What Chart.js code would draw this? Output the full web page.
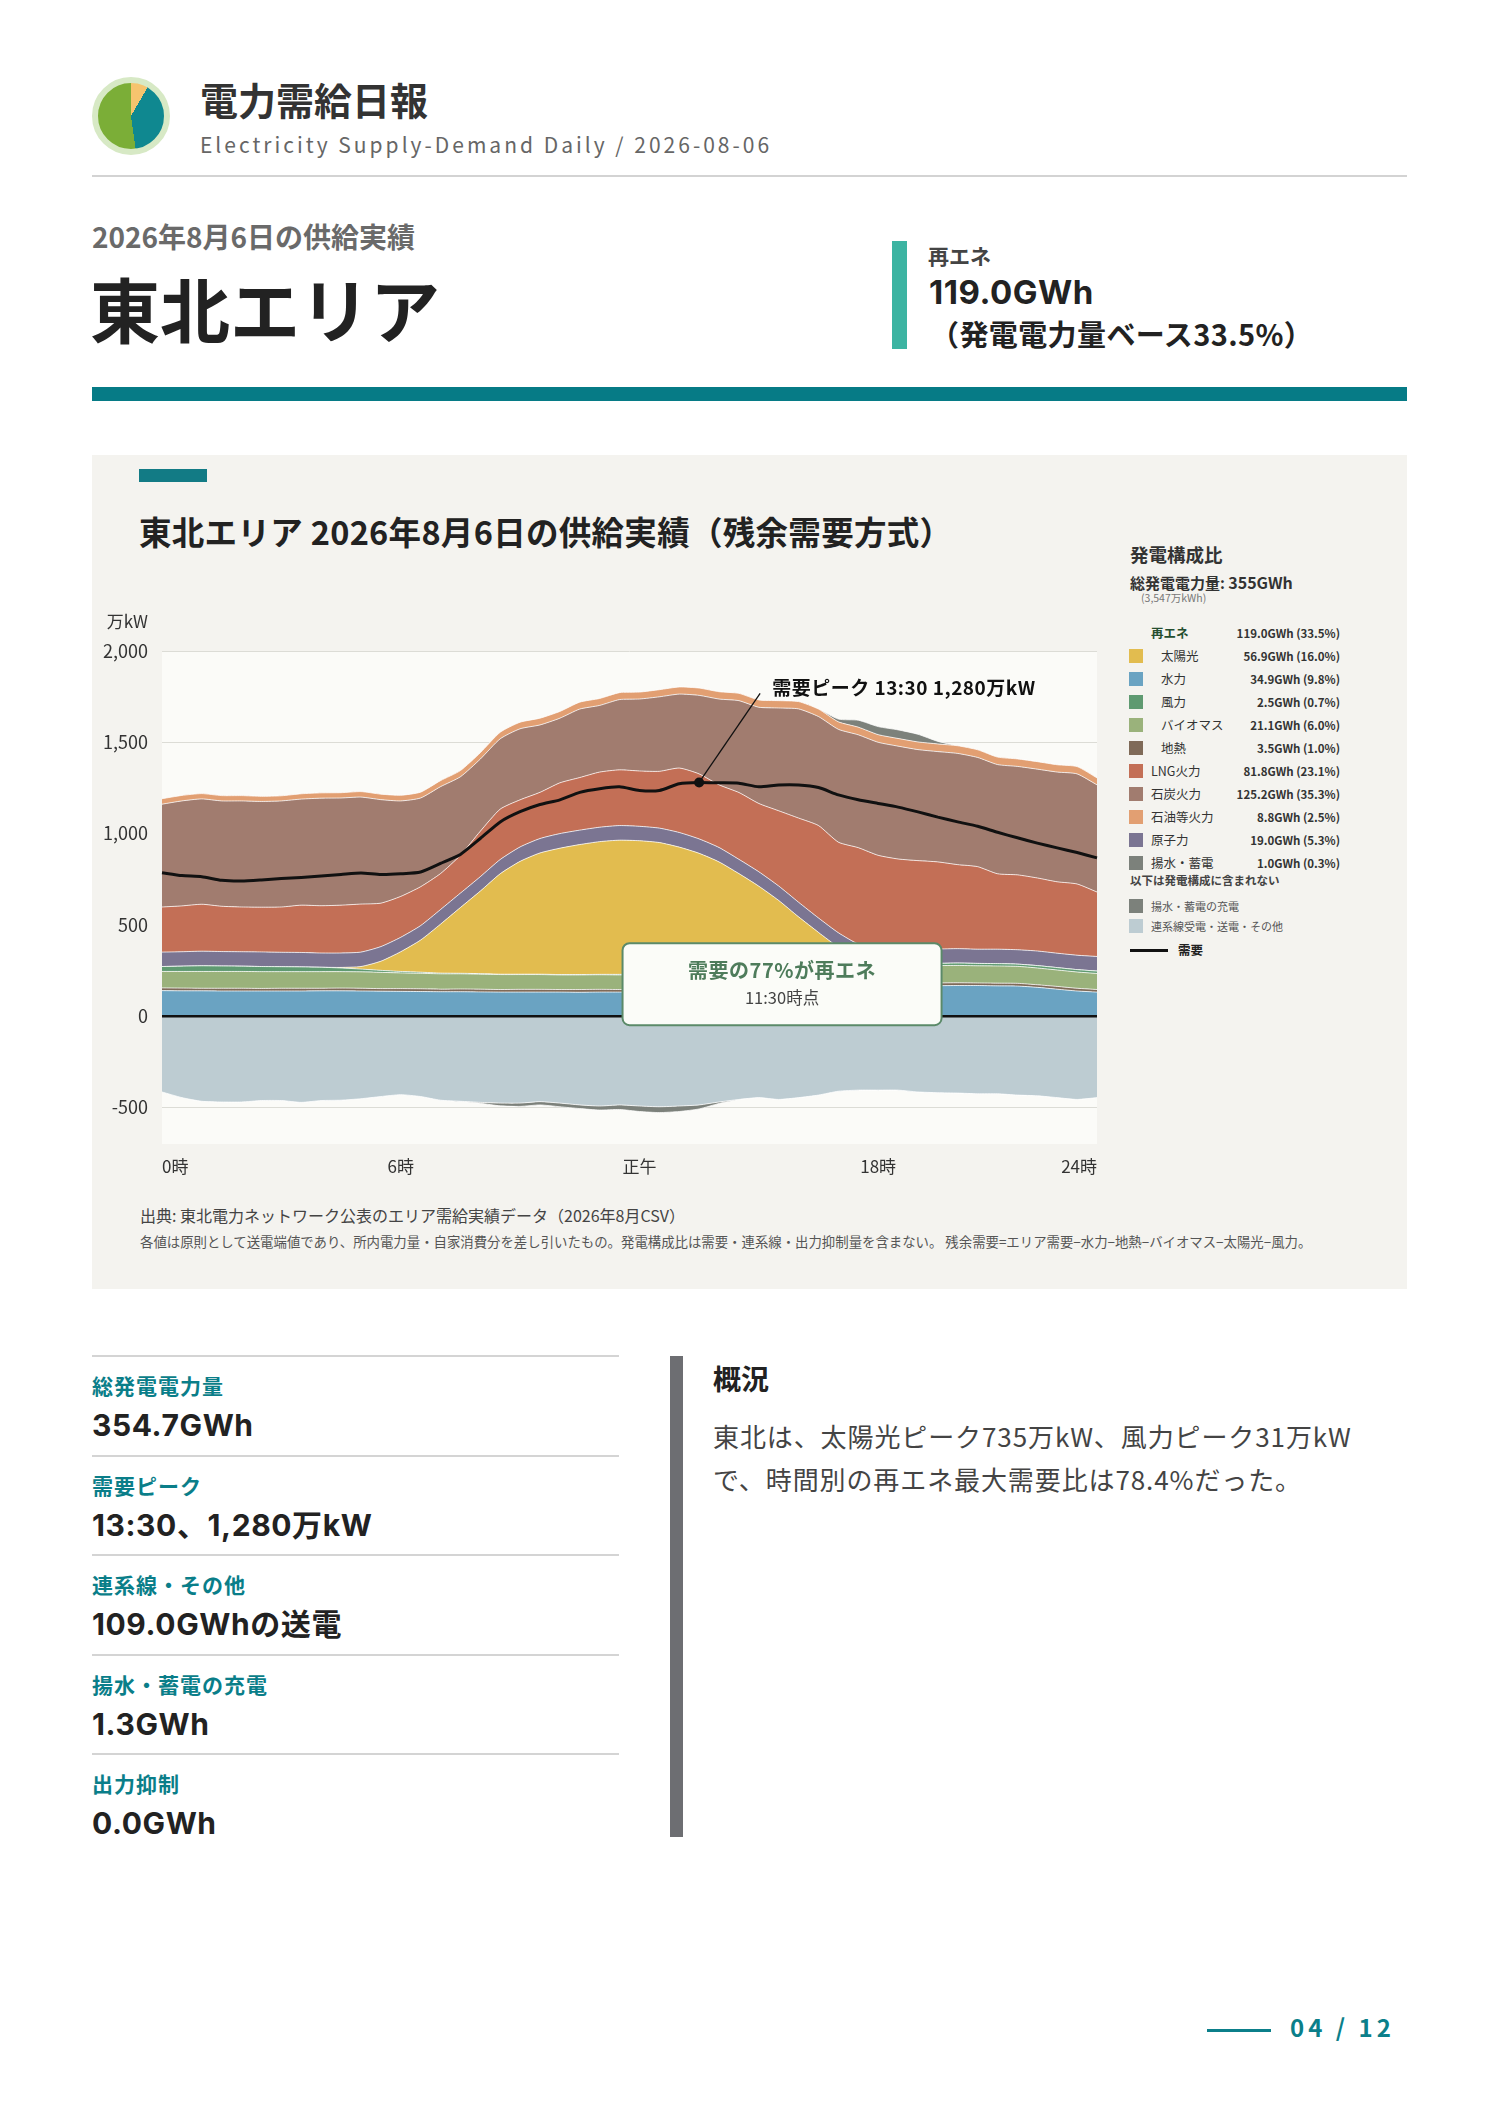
<!DOCTYPE html>
<html lang="ja">
<head>
<meta charset="utf-8">
<title>電力需給日報 東北エリア 2026-08-06</title>
<script src="https://cdn.jsdelivr.net/npm/chart.js@4.4.1/dist/chart.umd.min.js"></script>
<style>
* { box-sizing: border-box; margin: 0; padding: 0; }
body { width: 1488px; height: 2105px; background: #fff; position: relative; overflow: hidden;
  font-family: "Noto Sans CJK JP", "Noto Sans", sans-serif; color: #222; }
.abs { position: absolute; white-space: nowrap; line-height: 1; }
.num { font-family: Inter, "Noto Sans CJK JP", sans-serif; }
.logo { left: 92px; top: 77px; width: 78px; height: 78px; border-radius: 50%; border: 6px solid #d7e9c5;
  background: conic-gradient(#f6c46e 0deg 30deg, #0f8890 30deg 172deg, #7bae37 172deg 360deg); }
.panel { left: 92px; top: 455px; width: 1315px; height: 834px; background: #f4f3ef; }
#chartBox { position: absolute; left: 92px; top: 600px; width: 1020px; height: 590px; }
#legend { position: absolute; left: 1129px; top: 621px; width: 211px; }
.row { height: 23px; display: flex; align-items: center; font-size: 12.5px; color: #333; }
.sw { width: 14px; height: 14px; flex: none; }
.lab { margin-left: 8px; }
.row.sub .lab { margin-left: 18px; }
.val { margin-left: auto; font-weight: bold; font-size: 11.5px; color: #333; }
.xrow { height: 20px; display: flex; align-items: center; font-size: 11px; color: #555; }
.stat-line { left: 92px; width: 527px; height: 2px; background: #d4d4d4; }
.stat-lab { left: 92px; font-size: 21px; font-weight: bold; color: #0a7e89; letter-spacing: 1px; }
.stat-val { left: 92px; font-size: 30px; font-weight: bold; color: #222; letter-spacing: 0.6px;
  font-family: Inter, "Noto Sans CJK JP", sans-serif; }
</style>
</head>
<body>

<!-- ヘッダー -->
<div class="abs logo"></div>
<div class="abs" style="left:200px;top:80px;font-size:38px;font-weight:bold;color:#333;">電力需給日報</div>
<div class="abs" style="left:200px;top:134px;font-size:21px;letter-spacing:3px;color:#666;">Electricity Supply-Demand Daily / 2026-08-06</div>
<div class="abs" style="left:92px;top:175px;width:1315px;height:2px;background:#d3d3d3;"></div>

<div class="abs" style="left:92px;top:222px;font-size:28px;font-weight:bold;color:#6a6a6a;">2026年8月6日の供給実績</div>
<div class="abs" style="left:90px;top:273px;font-size:70px;font-weight:bold;color:#222;">東北エリア</div>

<div class="abs" style="left:892px;top:241px;width:15px;height:108px;background:#3cb4a2;"></div>
<div class="abs" style="left:928px;top:245px;font-size:21px;font-weight:bold;color:#444;">再エネ</div>
<div class="abs num" style="left:929px;top:276px;font-size:33px;font-weight:bold;color:#222;letter-spacing:0.5px;">119.0GWh</div>
<div class="abs" style="left:930px;top:319px;font-size:29px;font-weight:bold;color:#222;letter-spacing:0.4px;">（発電電力量ベース33.5%）</div>

<div class="abs" style="left:92px;top:387px;width:1315px;height:14px;background:#067b86;"></div>

<!-- グラフパネル -->
<div class="abs panel"></div>
<div class="abs" style="left:139px;top:469px;width:68px;height:13px;background:#127b85;"></div>
<div class="abs" style="left:139px;top:515px;font-size:32.5px;font-weight:bold;color:#222;letter-spacing:0.3px;">東北エリア 2026年8月6日の供給実績（残余需要方式）</div>

<div id="chartBox"><canvas id="myChart" width="1020" height="590"></canvas></div>

<div class="abs" style="left:1130px;top:545px;font-size:18.5px;font-weight:bold;color:#333;">発電構成比</div>
<div class="abs" style="left:1130px;top:574px;font-size:15px;font-weight:bold;color:#333;">総発電電力量: <span style="font-size:16px;">355GWh</span></div>
<div class="abs" style="left:1141px;top:593px;font-size:10.5px;color:#777;">(3,547万kWh)</div>
<div id="legend"></div>
<div class="abs" style="left:1130px;top:875px;font-size:11.5px;font-weight:bold;color:#444;">以下は発電構成に含まれない</div>
<div class="abs" id="legendX" style="left:1129px;top:896px;width:211px;"></div>
<div class="abs" style="left:1130px;top:949px;width:38px;height:3px;background:#111;"></div>
<div class="abs" style="left:1178px;top:944px;font-size:12.5px;font-weight:bold;color:#222;">需要</div>

<div class="abs" style="left:140px;top:1207px;font-size:16px;color:#444;">出典: 東北電力ネットワーク公表のエリア需給実績データ（2026年8月CSV）</div>
<div class="abs" style="left:140px;top:1235px;font-size:13.4px;color:#555;">各値は原則として送電端値であり、所内電力量・自家消費分を差し引いたもの。発電構成比は需要・連系線・出力抑制量を含まない。 残余需要=エリア需要−水力−地熱−バイオマス−太陽光−風力。</div>

<!-- 下段 -->
<div class="abs stat-line" style="top:1355px;"></div>
<div class="abs stat-lab" style="top:1375px;">総発電電力量</div>
<div class="abs stat-val" style="top:1410px;">354.7GWh</div>
<div class="abs stat-line" style="top:1455px;"></div>
<div class="abs stat-lab" style="top:1475px;">需要ピーク</div>
<div class="abs stat-val" style="top:1510px;">13:30、1,280万kW</div>
<div class="abs stat-line" style="top:1554px;"></div>
<div class="abs stat-lab" style="top:1574px;">連系線・その他</div>
<div class="abs stat-val" style="top:1609px;">109.0GWhの送電</div>
<div class="abs stat-line" style="top:1654px;"></div>
<div class="abs stat-lab" style="top:1674px;">揚水・蓄電の充電</div>
<div class="abs stat-val" style="top:1709px;">1.3GWh</div>
<div class="abs stat-line" style="top:1753px;"></div>
<div class="abs stat-lab" style="top:1773px;">出力抑制</div>
<div class="abs stat-val" style="top:1808px;">0.0GWh</div>

<div class="abs" style="left:670px;top:1356px;width:13px;height:481px;background:#6d6e72;"></div>
<div class="abs" style="left:713px;top:1364px;font-size:28px;font-weight:bold;color:#222;">概況</div>
<div class="abs" style="left:713px;top:1414px;font-size:26px;line-height:43px;color:#444;letter-spacing:0.9px;">東北は、太陽光ピーク735万kW、風力ピーク31万kW<br>で、時間別の再エネ最大需要比は78.4%だった。</div>

<div class="abs" style="left:1207px;top:2029px;width:64px;height:3px;background:#0b7f8a;"></div>
<div class="abs" style="left:1290px;top:2015px;font-size:24px;font-weight:bold;letter-spacing:4px;color:#0b7f8a;">04 / 12</div>

<script>
// 30分値 (万kW)
var times = ['0:00','0:30','1:00','1:30','2:00','2:30','3:00','3:30','4:00','4:30','5:00','5:30',
  '6:00','6:30','7:00','7:30','8:00','8:30','9:00','9:30','10:00','10:30','11:00','11:30',
  '12:00','12:30','13:00','13:30','14:00','14:30','15:00','15:30','16:00','16:30','17:00','17:30',
  '18:00','18:30','19:00','19:30','20:00','20:30','21:00','21:30','22:00','22:30','23:00','23:30'];

var demand = [786,770,764,744,740,746,754,760,768,776,784,776, 780,790,837,886,973,1064,1120,1159,1185,1226,1246,1256,
  1236,1236,1273,1280,1278,1276,1256,1266,1266,1252,1212,1185, 1165,1145,1119,1090,1064,1040,1007,977,948,922,896,867];

var hydro = [140,139,139,138,138,138,138,138,139,139,138,137, 136,135,134,134,133,132,132,132,132,131,132,132,
  132,133,134,136,138,140,143,148,152,156,160,163, 165,166,167,167,168,168,166,165,158,148,138,132];
var geo = [15,15,14,15,15,14,15,15,14,15,15,14, 15,15,14,15,15,14,15,15,14,15,15,14,
  15,15,14,15,15,14,15,15,14,15,15,14, 15,15,14,15,15,14,15,15,14,15,15,14];
var biomass = [90,91,92,92,92,92,91,91,91,90,90,89, 86,85,84,83,82,82,81,81,80,80,80,80,
  80,80,81,81,82,83,84,85,86,88,89,90, 93,94,94,95,95,94,94,93,92,90,89,88];
var wind = [27,29,31,30,29,28,27,26,24,20,15,11, 8,6,4,3,3,2,2,2,2,2,2,3,
  3,3,3,3,4,4,5,6,7,8,9,10, 10,11,12,12,13,13,13,12,13,13,13,13];
var solar = [0,0,0,0,0,0,0,0,0,3,14,50, 108,176,268,360,452,550,618,664,692,712,727,735,
  731,720,694,657,606,540,465,380,285,192,105,38, 6,0,0,0,0,0,0,0,0,0,0,0];
var nuclear = [79,79,80,79,79,80,79,79,78,79,79,80, 79,79,80,79,79,78,79,79,80,79,79,80,
  79,79,80,79,79,78,79,79,80,79,79,80, 79,79,80,79,79,78,79,79,80,79,79,80];
var lng = [247,251,257,248,245,245,248,259,259,262,263,238, 224,213,197,207,249,276,258,253,278,288,302,305,
  303,311,353,356,343,366,374,412,461,506,496,528, 513,496,485,477,460,452,413,410,400,391,390,353];
var coal = [563,575,577,577,581,579,581,581,589,587,586,567, 523,486,476,430,395,385,389,369,354,375,365,385,
  394,408,405,430,470,503,527,563,598,597,618,618, 619,618,608,604,609,598,598,594,596,601,603,587];
var oil = [30,30,29,29,29,28,28,29,29,29,30,30, 31,32,33,34,35,36,36,37,37,38,38,38,
  38,39,39,40,40,40,40,40,40,41,41,42, 42,42,42,42,42,42,41,41,41,40,40,38];
var pumped = [0,0,0,0,0,0,0,0,0,0,0,0, 0,0,0,0,0,0,0,0,0,0,0,0,
  0,0,0,0,0,0,0,0,0,0,15,38, 44,47,42,14,0,0,0,0,0,0,0,0];
var charge = [0,0,0,0,0,0,0,0,0,0,0,0, 0,0,0,0,-5,-15,-18,-18,-20,-20,-22,-25,
  -30,-32,-30,-22,-8,0,0,0,0,0,0,0, 0,0,0,0,0,0,0,0,0,0,0,0];
var exports = [-415,-446,-466,-470,-470,-462,-462,-472,-462,-460,-452,-440, -430,-440,-460,-466,-472,-476,-476,-468,-476,-486,-492,-486,
  -492,-496,-492,-486,-470,-456,-446,-456,-446,-432,-411,-405, -405,-405,-415,-419,-421,-425,-425,-432,-436,-446,-456,-446];

// 軸
var yTicks = [-500, 0, 500, 1000, 1500, 2000];
var tickIndex = [0, 12, 24, 36, 47];
var tickText = ['0時', '6時', '正午', '18時', '24時'];
var calloutIndex = 23;

// 凡例 (発電構成比)
var legendNames = ['再エネ','太陽光','水力','風力','バイオマス','地熱','LNG火力','石炭火力','石油等火力','原子力','揚水・蓄電'];
var legendValues = ['119.0GWh (33.5%)','56.9GWh (16.0%)','34.9GWh (9.8%)','2.5GWh (0.7%)','21.1GWh (6.0%)','3.5GWh (1.0%)',
  '81.8GWh (23.1%)','125.2GWh (35.3%)','8.8GWh (2.5%)','19.0GWh (5.3%)','1.0GWh (0.3%)'];
var legendXNames = ['揚水・蓄電の充電', '連系線受電・送電・その他'];

var colors = {
  '太陽光': '#e2bc4f', '水力': '#6aa3c2', '風力': '#5f9a71', 'バイオマス': '#9ab27b', '地熱': '#7f6a58',
  'LNG火力': '#c36f56', '石炭火力': '#a17c6f', '石油等火力': '#e29f72', '原子力': '#7b7592',
  '揚水・蓄電': '#7c817b', '揚水・蓄電の充電': '#7c817b', '連系線受電・送電・その他': '#bdccd2'
};
var subItems = ['太陽光','水力','風力','バイオマス','地熱'];

// 凡例を組み立てる
var legendHtml = '';
legendNames.forEach(function (name, i) {
  if (name === '再エネ') {
    legendHtml += '<div class="row"><span class="sw"></span><span class="lab" style="font-weight:bold;color:#244e2f;">' + name +
      '</span><span class="val">' + legendValues[i] + '</span></div>';
  } else {
    legendHtml += '<div class="row' + (subItems.indexOf(name) >= 0 ? ' sub' : '') + '"><span class="sw" style="background:' + colors[name] +
      '"></span><span class="lab">' + name + '</span><span class="val">' + legendValues[i] + '</span></div>';
  }
});
document.getElementById('legend').innerHTML = legendHtml;
document.getElementById('legendX').innerHTML = legendXNames.map(function (name) {
  return '<div class="xrow"><span class="sw" style="background:' + colors[name] + '"></span><span class="lab">' + name + '</span></div>';
}).join('');

var fontFamily = '"Noto Sans CJK JP", "Noto Sans", sans-serif';
Chart.defaults.font.family = fontFamily;

var peakIndex = demand.indexOf(Math.max.apply(null, demand));

function area(label, data, fill, stack) {
  return {
    label: label, data: data, stack: stack, fill: fill,
    backgroundColor: colors[label], borderColor: 'rgba(255,255,255,0.75)', borderWidth: 1,
    pointRadius: 0, pointHoverRadius: 0
  };
}

var datasets = [
  { label: '需要', data: demand, stack: 'demand', fill: false, borderColor: '#111', borderWidth: 3,
    pointRadius: demand.map(function (v, i) { return i === peakIndex ? 5 : 0; }),
    pointBackgroundColor: '#111', pointBorderWidth: 0, pointHoverRadius: 0 },
  area('連系線受電・送電・その他', exports, 'origin', 'neg'),
  area('揚水・蓄電の充電', charge, '-1', 'neg'),
  area('水力', hydro, 'origin', 'pos'),
  area('地熱', geo, '-1', 'pos'),
  area('バイオマス', biomass, '-1', 'pos'),
  area('風力', wind, '-1', 'pos'),
  area('太陽光', solar, '-1', 'pos'),
  area('原子力', nuclear, '-1', 'pos'),
  area('LNG火力', lng, '-1', 'pos'),
  area('石炭火力', coal, '-1', 'pos'),
  area('石油等火力', oil, '-1', 'pos'),
  area('揚水・蓄電', pumped, '-1', 'pos')
];

// 背景・ゼロ線・注記
var notePlugin = {
  id: 'notes',
  beforeDraw: function (chart) {
    var c = chart.ctx, a = chart.chartArea;
    c.save();
    c.fillStyle = '#fbfbf8';
    c.fillRect(a.left, a.top, a.right - a.left, a.bottom - a.top);
    c.restore();
  },
  afterDatasetsDraw: function (chart) {
    var c = chart.ctx, a = chart.chartArea, x = chart.scales.x, y = chart.scales.y;
    c.save();
    var y0 = y.getPixelForValue(0);
    c.strokeStyle = '#111';
    c.lineWidth = 2.5;
    c.beginPath(); c.moveTo(a.left, y0); c.lineTo(a.right, y0); c.stroke();

    c.fillStyle = '#333';
    c.font = '17px ' + fontFamily;
    c.textAlign = 'right';
    c.textBaseline = 'middle';
    c.fillText('万kW', a.left - 14, a.top - 29);

    // 需要ピーク
    var px = x.getPixelForValue(peakIndex), py = y.getPixelForValue(demand[peakIndex]);
    c.lineWidth = 1.3;
    c.beginPath(); c.moveTo(px, py); c.lineTo(px + 61, py - 89); c.stroke();
    c.fillStyle = '#111';
    c.font = 'bold 19px ' + fontFamily;
    c.letterSpacing = '0.5px';
    c.textAlign = 'left';
    c.fillText('需要ピーク ' + times[peakIndex] + ' ' + demand[peakIndex].toLocaleString('en-US') + '万kW', px + 73, py - 95);

    // 再エネ比率の吹き出し
    var ren = hydro[calloutIndex] + geo[calloutIndex] + biomass[calloutIndex] + wind[calloutIndex] + solar[calloutIndex];
    var pct = Math.round(ren / demand[calloutIndex] * 100);
    var bx = x.getPixelForValue(calloutIndex) + 3, by = y0 - 73, bw = 319, bh = 82;
    c.beginPath();
    c.roundRect(bx, by, bw, bh, 7);
    c.fillStyle = '#fbfcf8';
    c.fill();
    c.strokeStyle = '#5b8a69';
    c.lineWidth = 2;
    c.stroke();
    c.textAlign = 'center';
    c.fillStyle = '#4e7c5b';
    c.font = 'bold 20px ' + fontFamily;
    c.fillText('需要の' + pct + '%が再エネ', bx + bw / 2, by + 27);
    c.fillStyle = '#444';
    c.letterSpacing = '0px';
    c.font = '16.5px ' + fontFamily;
    c.fillText(times[calloutIndex] + '時点', bx + bw / 2, by + 55);
    c.restore();
  }
};

var ctx = document.getElementById('myChart').getContext('2d');
var myChart = new Chart(ctx, {
  type: 'line',
  data: { labels: times, datasets: datasets },
  options: {
    responsive: false,
    animation: false,
    layout: { padding: { left: 0, right: 15, top: 51, bottom: 0 } },
    elements: { line: { tension: 0.2 } },
    plugins: {
      legend: { display: false },
      tooltip: { enabled: false },
      filler: { propagate: false }
    },
    scales: {
      x: {
        type: 'category',
        offset: false,
        grid: { display: false },
        border: { display: false },
        ticks: {
          autoSkip: false, maxRotation: 0, align: 'inner', padding: 4,
          color: '#333', font: { size: 17 },
          callback: function (v, i) {
            var k = tickIndex.indexOf(i);
            return k < 0 ? null : tickText[k];
          }
        },
        afterFit: function (s) { s.height = 46; }
      },
      y: {
        stacked: true,
        min: -700,
        max: 2000,
        grid: { color: '#dcdcd6', lineWidth: 1, drawTicks: false },
        border: { display: false },
        ticks: {
          padding: 14, color: '#333', font: { size: 18 },
          callback: function (v) { return v.toLocaleString('en-US'); }
        },
        afterBuildTicks: function (s) {
          s.ticks = yTicks.map(function (v) { return { value: v }; });
        },
        afterFit: function (s) { s.width = 70; }
      }
    }
  },
  plugins: [notePlugin]
});
</script>
</body>
</html>
